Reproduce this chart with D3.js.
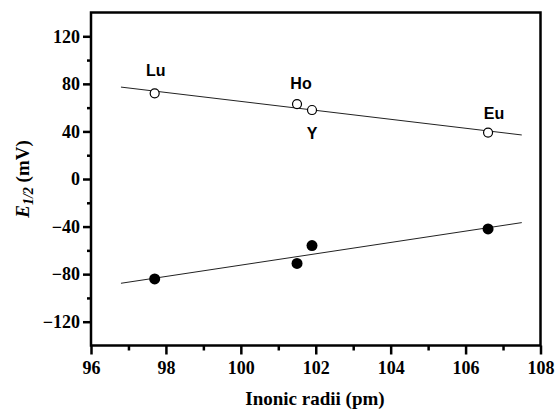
<!DOCTYPE html>
<html>
<head>
<meta charset="utf-8">
<script src="https://cdn.jsdelivr.net/npm/d3@7"></script>
<style>
  body { margin: 0; background: #fff; }
  svg { display: block; }
</style>
</head>
<body>
<div id="chart"></div>
<script>
// data
var elements = ["Lu", "Ho", "Y", "Eu"];
var radii = [97.7, 101.5, 101.9, 106.6];          // pm
var upperE = [72, 63, 58, 39];                    // open circles, mV
var lowerE = [-84, -71, -56, -42];                // filled circles, mV
var fitRange = [96.8, 107.5];                     // extent of the fit lines
var xTicks = [96, 98, 100, 102, 104, 106, 108];
var yTicks = [-120, -80, -40, 0, 40, 80, 120];

var width = 555, height = 409;
var margin = { top: 12.5, left: 91, bottom: 63.5, right: 14.5 };
var plotW = width - margin.left - margin.right;
var plotH = height - margin.top - margin.bottom;

var serif = "'Liberation Serif', 'Times New Roman', serif";

var svg = d3.select("#chart")
  .append("svg")
  .attr("width", width)
  .attr("height", height);

var g = svg.append("g")
  .attr("transform", "translate(" + margin.left + "," + margin.top + ")");

var x = d3.scaleLinear().domain([96, 108]).range([0, plotW]);
var y = d3.scaleLinear().domain([-140, 140]).range([plotH, 0]);

// minor ticks halfway between the majors
var xMinor = d3.range(97, 108, 2);
var yMinor = d3.range(-100, 140, 40);

function styleAxis(ax) {
  ax.attr("font-family", serif);
  ax.select(".domain").remove();
  ax.selectAll("line").attr("stroke", "#000").attr("stroke-width", 2.5);
  ax.selectAll("text")
    .attr("font-family", serif)
    .attr("font-weight", "bold")
    .attr("font-size", 18)
    .attr("fill", "#000");
}

// x axis
var xAxis = g.append("g")
  .attr("transform", "translate(0," + plotH + ")")
  .call(d3.axisBottom(x).tickValues(xTicks).tickFormat(d3.format("d")).tickSize(9).tickPadding(7));
styleAxis(xAxis);

g.append("g")
  .attr("transform", "translate(0," + plotH + ")")
  .call(d3.axisBottom(x).tickValues(xMinor).tickFormat("").tickSize(5))
  .call(function(a) {
    a.select(".domain").remove();
    a.selectAll("line").attr("stroke", "#000").attr("stroke-width", 2.5);
  });

// y axis
var yAxis = g.append("g")
  .call(d3.axisLeft(y).tickValues(yTicks).tickFormat(d3.format("d")).tickSize(8).tickPadding(3));
styleAxis(yAxis);

g.append("g")
  .call(d3.axisLeft(y).tickValues(yMinor).tickFormat("").tickSize(4))
  .call(function(a) {
    a.select(".domain").remove();
    a.selectAll("line").attr("stroke", "#000").attr("stroke-width", 2.5);
  });

// frame
g.append("rect")
  .attr("x", 0)
  .attr("y", 0)
  .attr("width", plotW)
  .attr("height", plotH)
  .attr("fill", "none")
  .attr("stroke", "#000")
  .attr("stroke-width", 2.5);

// least squares fit through each series
function fit(xs, ys) {
  var mx = d3.mean(xs), my = d3.mean(ys);
  var sxy = d3.sum(xs, function(v, i) { return (v - mx) * (ys[i] - my); });
  var sxx = d3.sum(xs, function(v) { return (v - mx) * (v - mx); });
  var b = sxy / sxx;
  return fitRange.map(function(v) { return [v, my + b * (v - mx)]; });
}

var line = d3.line()
  .x(function(d) { return x(d[0]); })
  .y(function(d) { return y(d[1]); });

[upperE, lowerE].forEach(function(series) {
  g.append("path")
    .datum(fit(radii, series))
    .attr("d", line)
    .attr("fill", "none")
    .attr("stroke", "#222")
    .attr("stroke-width", 1);
});

// open circles
g.selectAll(".open")
  .data(radii)
  .enter()
  .append("circle")
  .attr("class", "open")
  .attr("cx", function(d) { return x(d); })
  .attr("cy", function(d, i) { return y(upperE[i]); })
  .attr("r", 4.5)
  .attr("fill", "#fff")
  .attr("stroke", "#000")
  .attr("stroke-width", 1.2);

// filled circles
g.selectAll(".filled")
  .data(radii)
  .enter()
  .append("circle")
  .attr("class", "filled")
  .attr("cx", function(d) { return x(d); })
  .attr("cy", function(d, i) { return y(lowerE[i]); })
  .attr("r", 5.5)
  .attr("fill", "#000");

// element labels, nudged off the open circles
var labelOffset = { Lu: [1, -17], Ho: [4, -15], Y: [0, 29], Eu: [6, -14] };
g.selectAll(".lab")
  .data(elements)
  .enter()
  .append("text")
  .attr("class", "lab")
  .attr("x", function(d, i) { return x(radii[i]) + labelOffset[d][0]; })
  .attr("y", function(d, i) { return y(upperE[i]) + labelOffset[d][1]; })
  .attr("text-anchor", "middle")
  .attr("font-family", "'Liberation Sans', Arial, sans-serif")
  .attr("font-weight", "bold")
  .attr("font-size", 16)
  .text(function(d) { return d; });

// axis titles
svg.append("text")
  .attr("x", 315)
  .attr("y", 405)
  .attr("text-anchor", "middle")
  .attr("font-family", serif)
  .attr("font-weight", "bold")
  .attr("font-size", 19)
  .text("Inonic radii (pm)");

var yt = svg.append("text")
  .attr("transform", "translate(29," + (margin.top + plotH / 2) + ") rotate(-90)")
  .attr("text-anchor", "middle")
  .attr("font-family", serif)
  .attr("font-weight", "bold")
  .attr("font-size", 19);
yt.append("tspan").attr("font-style", "italic").text("E");
yt.append("tspan").attr("font-style", "italic").attr("font-size", 14).attr("dy", 4).text("1/2");
yt.append("tspan").attr("dy", -4).text(" (mV)");
</script>
</body>
</html>
